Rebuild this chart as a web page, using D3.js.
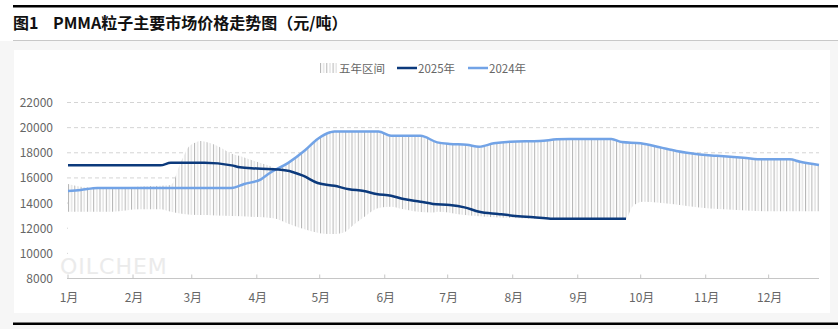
<!DOCTYPE html>
<html><head><meta charset="utf-8">
<script src="https://cdn.jsdelivr.net/npm/d3@7/dist/d3.min.js"></script>
<style>
body{margin:0;background:#fff;}
svg{display:block;font-family:"Noto Sans CJK SC","Microsoft YaHei",sans-serif;}
</style></head><body>
<svg id="c" width="838" height="329"></svg>
<script>
// ---- data (x = day of year, y = 元/吨) ----
const monthLabels = ["1月","2月","3月","4月","5月","6月","7月","8月","9月","10月","11月","12月"];
const monthStartDays = [0,31,59,90,120,151,181,212,243,273,304,334];
const yTicks = [8000,10000,12000,14000,16000,18000,20000,22000];

const days2025 = [0,44,49,65,78,82,90,104,112,119,127,134,141,147,154,160,168,174,182,189,196,205,212,222,230,266];
const price2025 = [17000,17000,17200,17200,17000,16850,16750,16600,16180,15600,15370,15100,14960,14720,14590,14320,14110,13930,13850,13660,13310,13130,13000,12870,12760,12760];

const days2024 = [0,6,14,78,84,92,96,105,113,119,125,127,148,154,168,176,182,190,196,203,211,225,233,239,259,264,273,282,290,295,308,311,322,331,344,349,358];
const price2024 = [14960,15040,15200,15200,15520,15890,16370,17200,18200,19100,19630,19700,19700,19350,19350,18830,18700,18640,18480,18750,18880,18940,19070,19100,19100,18850,18750,18440,18140,18000,17770,17740,17610,17480,17480,17290,17030];

const daysMax = [0,6,15,39,49,51,52,55,57,60,63,68,72,77,83,90,95,100,105,113,119,125,127,148,154,168,176,182,190,196,203,211,225,233,239,259,264,273,282,290,295,308,311,322,331,344,349,358];
const rangeMax = [15520,15300,15200,15350,15440,15970,16500,17690,18360,18760,18940,18760,18480,18010,17690,17290,17030,16750,17200,18200,19100,19630,19700,19700,19350,19350,18830,18700,18640,18480,18750,18880,18940,19070,19100,19100,18850,18750,18440,18140,18000,17770,17740,17610,17480,17480,17290,17030];

const daysMin = [0,21,34,44,49,55,62,79,87,98,106,114,122,127,132,136,142,148,154,160,168,173,177,187,196,206,215,230,266,269,274,282,296,306,319,333,358];
const rangeMin = [13310,13310,13500,13500,13310,13130,13050,12970,12920,12790,12300,11860,11560,11540,11700,12260,13000,13600,13710,13500,13280,13250,13310,13100,12950,12860,12790,12740,12740,13700,14100,14030,13750,13560,13450,13350,13350];

const legendNames = ["五年区间","2025年","2024年"];
const titleText = "图1";
const titleMain = "PMMA粒子主要市场价格走势图（元/吨）";

// ---- drawing ----
const svg = d3.select("#c");
const W = 838, H = 329;
const x = d3.scaleLinear().domain([0,358]).range([68,819]);
const y = d3.scaleLinear().domain([8000,22000]).range([278.5,102.5]);

// frame
svg.append("rect").attr("x",0).attr("y",0).attr("width",W).attr("height",H).attr("fill","#fff");
svg.append("rect").attr("x",0).attr("y",41).attr("width",W).attr("height",H-41).attr("fill","#f6f6f6");
svg.append("rect").attr("x",14).attr("y",50).attr("width",816).attr("height",263).attr("fill","#fff");
svg.append("rect").attr("x",13).attr("y",5).attr("width",825).attr("height",2.5).attr("fill","#000");
svg.append("rect").attr("x",13).attr("y",40).attr("width",825).attr("height",1).attr("fill","#c8c8c8");
svg.append("rect").attr("x",13).attr("y",322.5).attr("width",825).attr("height",2.5).attr("fill","#000");

svg.append("text").attr("x",13).attr("y",29).attr("font-size",16).attr("font-weight","bold").attr("fill","#111").text(titleText);
svg.append("text").attr("x",53).attr("y",29).attr("font-size",16).attr("font-weight","bold").attr("fill","#111").text(titleMain);

// pattern
const defs = svg.append("defs");
const pat = defs.append("pattern").attr("id","stripe").attr("patternUnits","userSpaceOnUse")
  .attr("x",68).attr("y",0).attr("width",6.3).attr("height",10);
pat.append("rect").attr("width",6.3).attr("height",10).attr("fill","#fff");
pat.append("rect").attr("x",0).attr("y",0).attr("width",1).attr("height",10).attr("fill","#b4b4b4");
pat.append("rect").attr("x",3.15).attr("y",0).attr("width",1).attr("height",10).attr("fill","#d6d6d6");

// gridlines
svg.append("g").selectAll("line").data(yTicks.slice(1)).join("line")
  .attr("x1",67).attr("x2",819).attr("y1",d=>y(d)).attr("y2",d=>y(d))
  .attr("stroke","#d4d4d4").attr("stroke-width",1).attr("stroke-dasharray","4,3");

// white base covering gridlines below max
const maxPts = daysMax.map((d,i)=>[d,rangeMax[i]]);
const minPts = daysMin.map((d,i)=>[d,rangeMin[i]]);
svg.append("path").datum(maxPts)
  .attr("d", d3.area().x(d=>x(d[0])).y0(y(8000)).y1(d=>y(d[1])).curve(d3.curveMonotoneX))
  .attr("fill","#fff");

// range band between min and max
const bandTop = d3.area().x(d=>x(d[0])).y0(y(8000)).y1(d=>y(d[1])).curve(d3.curveMonotoneX);
defs.append("clipPath").attr("id","aboveMin").append("path").datum(minPts)
  .attr("d", d3.area().x(d=>x(d[0])).y0(0).y1(d=>y(d[1])).curve(d3.curveMonotoneX));
svg.append("path").datum(maxPts).attr("d", bandTop).attr("fill","url(#stripe)").attr("clip-path","url(#aboveMin)");

// watermark (faint)
svg.append("text").attr("x",60).attr("y",274).attr("font-size",22).attr("font-family","DejaVu Sans")
  .attr("letter-spacing",1).attr("fill","#e8e8e8").attr("opacity",0.85).text("OILCHEM");

// axis
svg.append("line").attr("x1",67).attr("x2",819).attr("y1",y(8000)).attr("y2",y(8000)).attr("stroke","#c6c6c6");
svg.append("g").selectAll("line").data(monthStartDays).join("line")
  .attr("x1",d=>x(d)).attr("x2",d=>x(d)).attr("y1",y(8000)).attr("y2",y(8000)-4).attr("stroke","#c6c6c6");
svg.append("g").selectAll("text").data(monthLabels).join("text")
  .attr("x",(d,i)=>x(monthStartDays[i])+1).attr("y",302).attr("text-anchor","middle")
  .attr("font-size",12).attr("fill","#666").text(d=>d);
svg.append("g").selectAll("text").data(yTicks).join("text")
  .attr("x",53).attr("y",d=>y(d)+4.5).attr("text-anchor","end")
  .attr("font-size",12).attr("fill","#666").text(d=>d);

// lines
const line = d3.line().x(d=>x(d[0])).y(d=>y(d[1])).curve(d3.curveMonotoneX);
svg.append("path").datum(days2024.map((d,i)=>[d,price2024[i]])).attr("d",line)
  .attr("fill","none").attr("stroke","#72a3e6").attr("stroke-width",2.5);
svg.append("path").datum(days2025.map((d,i)=>[d,price2025[i]])).attr("d",line)
  .attr("fill","none").attr("stroke","#0c3a7c").attr("stroke-width",2.5);

// legend
const lg = svg.append("g").attr("font-size",11.5).attr("fill","#666");
lg.append("rect").attr("x",320).attr("y",63).attr("width",17).attr("height",10).attr("fill","url(#stripe)");
lg.append("text").attr("x",339).attr("y",72.5).text(legendNames[0]);
lg.append("line").attr("x1",397).attr("x2",417).attr("y1",68).attr("y2",68).attr("stroke","#0c3a7c").attr("stroke-width",2.5);
lg.append("text").attr("x",418).attr("y",72.5).text(legendNames[1]);
lg.append("line").attr("x1",468).attr("x2",488).attr("y1",68).attr("y2",68).attr("stroke","#72a3e6").attr("stroke-width",2.5);
lg.append("text").attr("x",489).attr("y",72.5).text(legendNames[2]);
</script>
</body></html>
